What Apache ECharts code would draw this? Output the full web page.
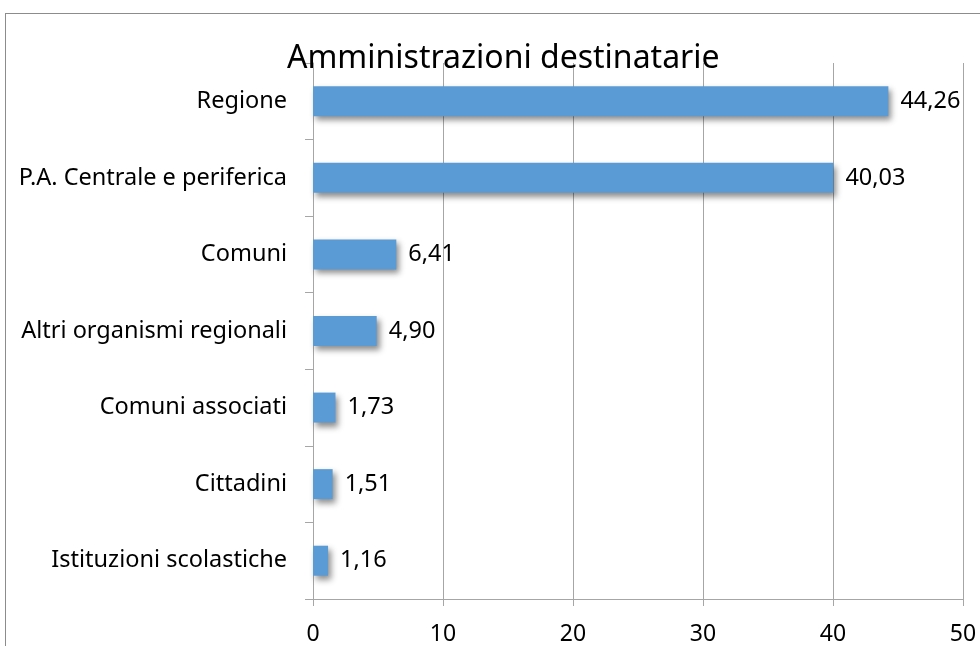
<!DOCTYPE html>
<html>
<head>
<meta charset="utf-8">
<script src="https://cdn.jsdelivr.net/npm/echarts@6/dist/echarts.min.js"></script>
<style>
html, body { margin: 0; padding: 0; background: #fff; }
#frame { position: absolute; left: 5px; top: 13px; width: 1000px; height: 700px; border: 1px solid #8c8c8c; }
#main { position: absolute; left: 0; top: 0; width: 980px; height: 646px; }
</style>
</head>
<body>
<div id="frame"></div>
<div id="main"></div>
<script>
var categories = ['Regione', 'P.A. Centrale e periferica', 'Comuni', 'Altri organismi regionali',
	'Comuni associati', 'Cittadini', 'Istituzioni scolastiche'];
var values = [44.26, 40.03, 6.41, 4.90, 1.73, 1.51, 1.16];
var xTicks = [0, 10, 20, 30, 40, 50];

var font = 'Noto Sans';
var myChart = echarts.init(document.getElementById('main'));

var option = {
	animation: false,
	title: {
		text: 'Amministrazioni destinatarie',
		left: 282,
		top: 38,
		textStyle: {fontFamily: font, fontSize: 32, fontWeight: 'normal', color: '#000'}
	},
	grid: {left: 313, right: 17, top: 63, bottom: 44},
	xAxis: {
		type: 'value',
		min: xTicks[0],
		max: xTicks[xTicks.length - 1],
		interval: 10,
		axisLine: {show: true, lineStyle: {color: '#a6a6a6', width: 1}},
		axisTick: {show: true, length: 7, lineStyle: {color: '#a6a6a6'}},
		axisLabel: {margin: 24, fontFamily: font, fontSize: 23, color: '#000'},
		splitLine: {show: true, lineStyle: {color: '#a6a6a6', width: 1}}
	},
	yAxis: {
		type: 'category',
		inverse: true,
		data: categories,
		axisLine: {show: true, lineStyle: {color: '#a6a6a6', width: 1}},
		axisTick: {show: true, length: 8, lineStyle: {color: '#a6a6a6'}},
		axisLabel: {margin: 26, fontFamily: font, fontSize: 23.5, color: '#000'}
	},
	series: [{
		type: 'bar',
		data: values,
		barWidth: 30,
		itemStyle: {
			color: '#5b9bd5',
			shadowColor: 'rgba(0,0,0,0.45)',
			shadowBlur: 6,
			shadowOffsetX: 3,
			shadowOffsetY: 4
		},
		label: {
			show: true,
			position: 'right',
			distance: 12,
			fontFamily: font,
			fontSize: 23.5,
			color: '#000',
			formatter: function (p) { return p.value.toFixed(2).replace('.', ','); }
		}
	}]
};

myChart.setOption(option);
</script>
</body>
</html>
